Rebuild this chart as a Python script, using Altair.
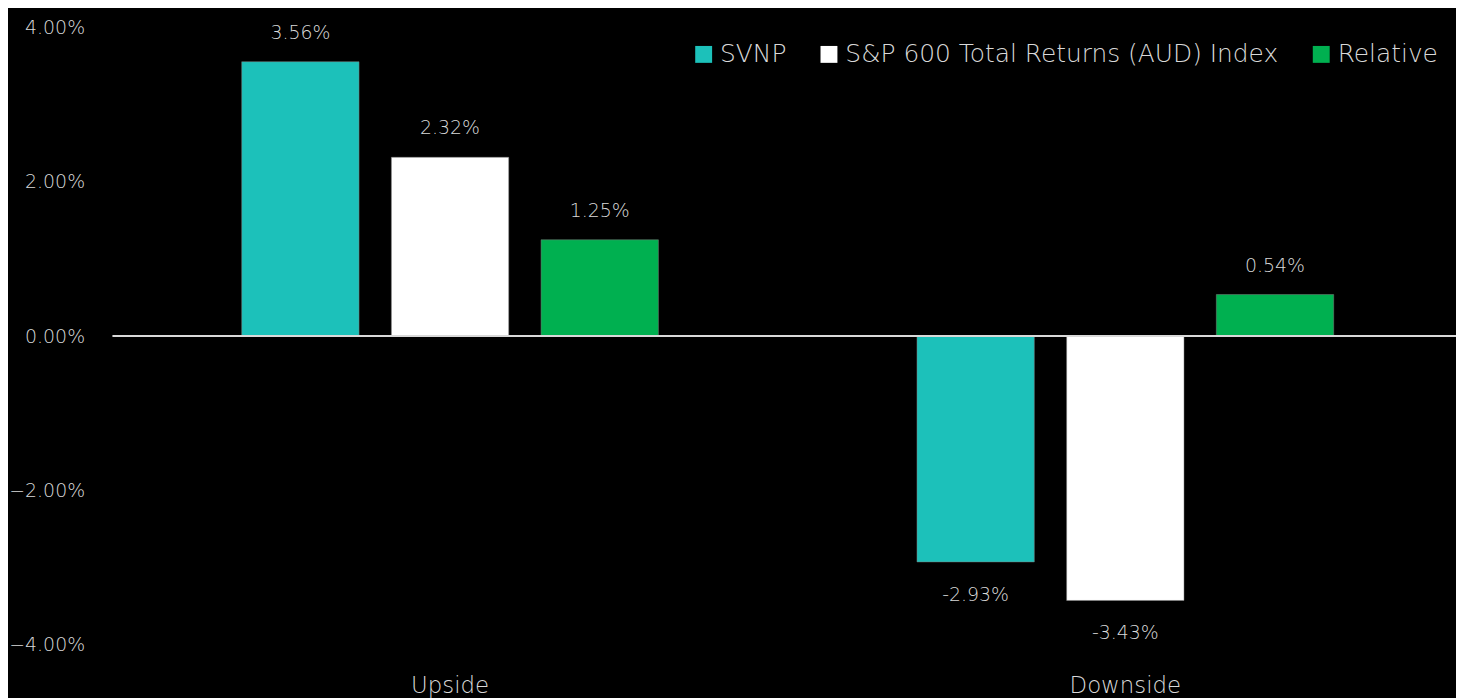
import altair as alt
import pandas as pd

categories = ["Upside", "Downside"]
series = ["SVNP", "S&P 600 Total Returns (AUD) Index", "Relative"]
svnp = [3.56, -2.93]
index_vals = [2.32, -3.43]
relative = [1.25, 0.54]
colors = ["#1CC1BA", "#FFFFFF", "#00B050"]

rows = []
for i, c in enumerate(categories):
    for s, vals in zip(series, [svnp, index_vals, relative]):
        rows.append({"cat": c, "series": s, "value": vals[i] / 100,
                     "label": f"{vals[i]:.2f}%"})
df = pd.DataFrame(rows)

FONT = "DejaVu Sans"
W = 200
TXT = "#D9D9D9"

x = alt.X("cat:N", sort=categories, title=None,
          scale=alt.Scale(paddingInner=0, paddingOuter=0),
          axis=alt.Axis(labelAngle=0, domain=False, ticks=False, labelPadding=30,
                        labelFontSize=23, labelColor=TXT, labelFont=FONT,
                        labelFontWeight=W))
xoff = alt.XOffset("series:N", sort=series,
                   scale=alt.Scale(paddingInner=0.216, paddingOuter=0.8638))
y = alt.Y("value:Q", title=None,
          scale=alt.Scale(domain=[-0.04, 0.04], nice=False),
          axis=alt.Axis(values=[-0.04, -0.02, 0, 0.02, 0.04], format=".2%",
                        grid=False, domain=False, ticks=False, labelPadding=28,
                        labelFontSize=19, labelColor=TXT, labelFont=FONT,
                        labelFontWeight=W))

color = alt.Color("series:N", sort=series,
                  scale=alt.Scale(domain=series, range=colors),
                  legend=alt.Legend(title=None, orient="none", direction="horizontal",
                                    legendX=582, legendY=14, symbolType="square",
                                    symbolSize=289, symbolStrokeWidth=0,
                                    labelFontSize=25, labelFont=FONT,
                                    labelFontWeight=W, labelColor=TXT,
                                    labelOffset=4, columnPadding=30,
                                    labelLimit=700))

base = alt.Chart(df)
bars = base.mark_bar(stroke="#7F7F7F", strokeWidth=0.5).encode(
    x=x, xOffset=xoff, y=y, color=color)

txt_pos = base.transform_filter("datum.value >= 0").mark_text(
    dy=-29, fontSize=19, font=FONT, fontWeight=W, color=TXT).encode(
    x=x, xOffset=xoff, y=y, text="label:N")
txt_neg = base.transform_filter("datum.value < 0").mark_text(
    dy=33, fontSize=19, font=FONT, fontWeight=W, color=TXT).encode(
    x=x, xOffset=xoff, y=y, text="label:N")

zero = alt.Chart(pd.DataFrame({"z": [0]})).mark_rule(color="#D9D9D9", strokeWidth=2).encode(
    y=alt.Y("z:Q", scale=alt.Scale(domain=[-0.04, 0.04], nice=False)))

chart = alt.layer(bars, zero, txt_pos, txt_neg).properties(
    width=1358, height=620,
    autosize=alt.AutoSizeParams(type="none"),
    padding={"left": 105, "top": 18, "right": -7, "bottom": 52},
    background="#000000",
).configure_view(stroke=None)

chart.save("out.html", embed_options={"renderer": "svg", "actions": False})
